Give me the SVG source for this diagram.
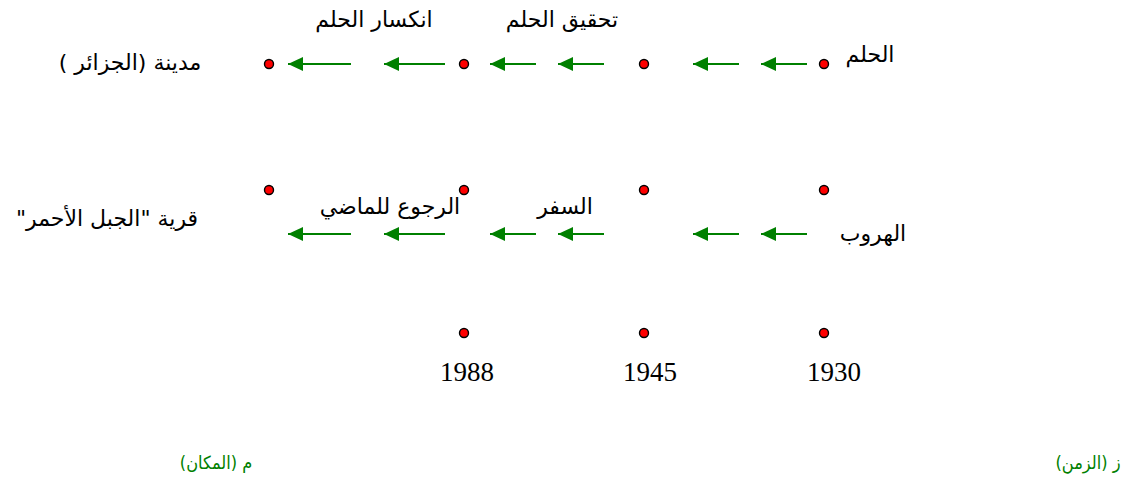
<svg xmlns="http://www.w3.org/2000/svg" width="1125" height="480" viewBox="0 0 1125 480">
  <defs>
    <style>
      .lbl { font-family: "DejaVu Sans", "Liberation Sans", sans-serif; font-size: 22px; fill: #000; text-anchor: middle; direction: rtl; unicode-bidi: embed; }
      .axis { font-family: "DejaVu Sans Condensed", "DejaVu Sans", sans-serif; font-size: 18px; fill: #008000; text-anchor: middle; direction: rtl; unicode-bidi: embed; }
      .year { font-family: "Liberation Serif", serif; font-size: 27px; fill: #000; text-anchor: middle; }
      .dot { fill: #ff0000; stroke: #000; stroke-width: 1.4; }
      .arr { stroke: #008000; stroke-width: 2; fill: none; marker-start: url(#head); }
    </style>
    <!-- arrowhead sits at the left end of each segment, pointing left -->
    <marker id="head" viewBox="0 0 15 14" refX="0" refY="7" markerWidth="15" markerHeight="14" markerUnits="userSpaceOnUse" orient="auto">
      <path d="M0,7 L15,0 L15,14 Z" fill="#008000"/>
    </marker>
  </defs>

  <rect width="1125" height="480" fill="#fff"/>

  <!-- connectors: leftward arrows along each place row -->
  <g id="connectors">
    <path class="arr" d="M288,64 H351"/>
    <path class="arr" d="M384,64 H445"/>
    <path class="arr" d="M490,64 H536"/>
    <path class="arr" d="M558,64 H604"/>
    <path class="arr" d="M693,64 H739"/>
    <path class="arr" d="M761,64 H807"/>

    <path class="arr" d="M288,234 H351"/>
    <path class="arr" d="M384,234 H445"/>
    <path class="arr" d="M490,234 H536"/>
    <path class="arr" d="M558,234 H604"/>
    <path class="arr" d="M693,234 H739"/>
    <path class="arr" d="M761,234 H807"/>
  </g>

  <!-- row 1: city -->
  <g id="row-city">
    <text class="lbl" x="130" y="70">مدينة (الجزائر )</text>
    <circle class="dot" cx="269" cy="64" r="4.5"/>
    <circle class="dot" cx="464" cy="64" r="4.5"/>
    <circle class="dot" cx="644" cy="64" r="4.5"/>
    <circle class="dot" cx="824" cy="64" r="4.5"/>
    <text class="lbl" x="374" y="27">انكسار الحلم</text>
    <text class="lbl" x="562" y="27">تحقيق الحلم</text>
    <text class="lbl" x="870" y="62">الحلم</text>
  </g>

  <!-- row 2: village -->
  <g id="row-village">
    <text class="lbl" x="107" y="226">قرية "الجبل الأحمر"</text>
    <circle class="dot" cx="269" cy="190" r="4.5"/>
    <circle class="dot" cx="464" cy="190" r="4.5"/>
    <circle class="dot" cx="644" cy="190" r="4.5"/>
    <circle class="dot" cx="824" cy="190" r="4.5"/>
    <text class="lbl" x="390" y="214">الرجوع للماضي</text>
    <text class="lbl" x="565" y="214">السفر</text>
    <text class="lbl" x="873" y="241">الهروب</text>
  </g>

  <!-- row 3: years -->
  <g id="row-years">
    <circle class="dot" cx="464" cy="333" r="4.5"/>
    <circle class="dot" cx="644" cy="333" r="4.5"/>
    <circle class="dot" cx="824" cy="333" r="4.5"/>
    <text class="year" x="467" y="381">1988</text>
    <text class="year" x="650" y="381">1945</text>
    <text class="year" x="834" y="381">1930</text>
  </g>

  <!-- axis captions -->
  <g id="axis-labels">
    <text class="axis" x="216" y="469">م (المكان)</text>
    <text class="axis" x="1088" y="469">ز (الزمن)</text>
  </g>
</svg>
